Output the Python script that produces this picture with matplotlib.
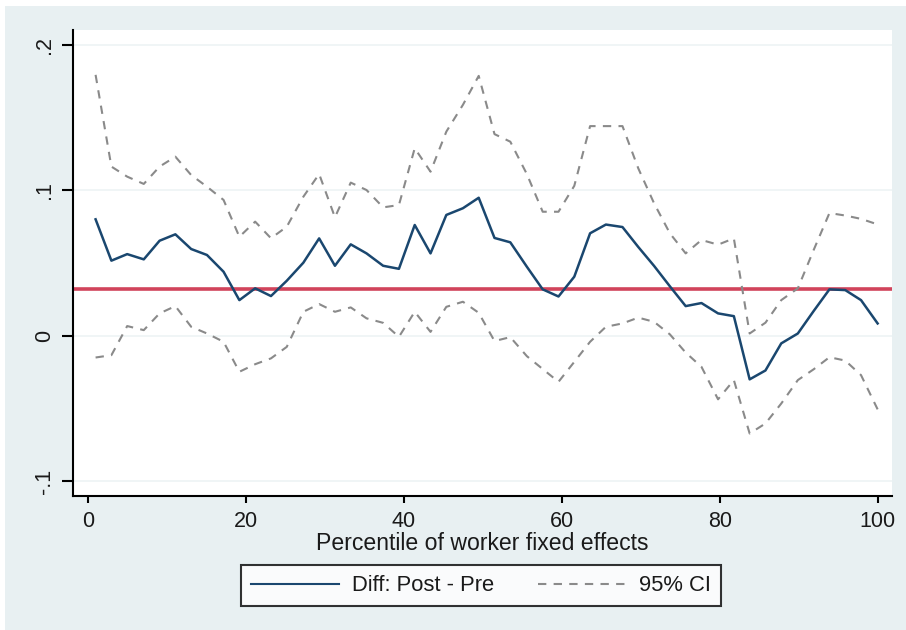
import matplotlib
matplotlib.use("Agg")
import matplotlib.pyplot as plt
from matplotlib.lines import Line2D

plt.rcParams['font.family'] = ['Liberation Sans', 'DejaVu Sans']

# Percentile grid (50 points from 1 to 100)
percentile = [1.0, 3.0, 5.0, 7.1, 9.1, 11.1, 13.1, 15.1, 17.2, 19.2,
              21.2, 23.2, 25.2, 27.3, 29.3, 31.3, 33.3, 35.3, 37.4, 39.4,
              41.4, 43.4, 45.4, 47.5, 49.5, 51.5, 53.5, 55.6, 57.6, 59.6,
              61.6, 63.6, 65.6, 67.7, 69.7, 71.7, 73.7, 75.7, 77.7, 79.8,
              81.8, 83.8, 85.8, 87.8, 89.9, 91.9, 93.9, 95.9, 97.9, 100.0]

diff = [0.080, 0.0516, 0.0561, 0.0525, 0.0653, 0.0697, 0.0596, 0.0555, 0.0440, 0.0245,
        0.0326, 0.0273, 0.0378, 0.0502, 0.0669, 0.0481, 0.0628, 0.0566, 0.0481, 0.0460,
        0.0761, 0.0566, 0.0830, 0.0876, 0.0948, 0.0672, 0.0642, 0.0474, 0.0319, 0.0270,
        0.0406, 0.0704, 0.0764, 0.0747, 0.0610, 0.0480, 0.0340, 0.0204, 0.0225, 0.0154,
        0.0135, -0.0299, -0.0238, -0.0052, 0.0016, 0.0170, 0.0319, 0.0314, 0.0245, 0.0085]

ci_upper = [0.1792, 0.1162, 0.1093, 0.1043, 0.1162, 0.1230, 0.1104, 0.1024, 0.0933, 0.0680,
            0.0784, 0.0670, 0.0749, 0.0955, 0.1111, 0.0814, 0.1052, 0.1001, 0.0882, 0.0898,
            0.1288, 0.1127, 0.1402, 0.1586, 0.1785, 0.1385, 0.1333, 0.1110, 0.0852, 0.0852,
            0.1030, 0.1440, 0.1440, 0.1440, 0.1150, 0.0910, 0.0704, 0.0566, 0.0658, 0.0626,
            0.0669, 0.0016, 0.0090, 0.0245, 0.0326, 0.0589, 0.0843, 0.0826, 0.0803, 0.0765]

ci_lower = [-0.0149, -0.0133, 0.0067, 0.0039, 0.0154, 0.0204, 0.0062, 0.0016, -0.0041, -0.0247,
            -0.0195, -0.0155, -0.0076, 0.0165, 0.0218, 0.0165, 0.0195, 0.0120, 0.0089, -0.0007,
            0.0165, 0.0027, 0.0199, 0.0234, 0.0158, -0.0036, -0.0009, -0.0140, -0.0228, -0.0316,
            -0.0179, -0.0041, 0.0062, 0.0085, 0.0125, 0.0096, 0.0010, -0.0115, -0.0213, -0.0436,
            -0.0304, -0.0671, -0.0602, -0.0465, -0.0304, -0.0230, -0.0147, -0.0170, -0.0270, -0.0505]

mean_line = 0.0323

y_ticks = [-0.1, 0.0, 0.1, 0.2]
y_ticklabels = ['-.1', '0', '.1', '.2']
x_ticks = [0, 20, 40, 60, 80, 100]

W, H = 906, 630
bg = '#E8F0F2'
fig = plt.figure(figsize=(W / 100, H / 100), dpi=100, facecolor='white')
# bluish-gray graph region with thin white border at left/top
fig.patches.append(plt.Rectangle((5 / W, 0), 1 - 5 / W, 1 - 6 / H, transform=fig.transFigure,
                                 facecolor=bg, edgecolor='none', zorder=-10))

left, right, top, bottom = 73, 892, 30, 496
ax = fig.add_axes([left / W, 1 - bottom / H, (right - left) / W, (bottom - top) / H])
ax.set_facecolor('white')

for yt in y_ticks:
    ax.axhline(yt, color='#EFF5F6', lw=1.3, zorder=0)

ax.axhline(mean_line, color='#D1435B', lw=2.6, zorder=2)
ax.plot(percentile, ci_upper, color='#8A8A8A', lw=1.5, dashes=(4, 3.5), zorder=3)
ax.plot(percentile, ci_lower, color='#8A8A8A', lw=1.5, dashes=(4, 3.5), zorder=3)
ax.plot(percentile, diff, color='#1A476F', lw=1.8, zorder=4)

ax.set_xlim(-1.86, 101.82)
ax.set_ylim(-0.110, 0.210)

for s in ['top', 'right']:
    ax.spines[s].set_visible(False)
for s in ['left', 'bottom']:
    ax.spines[s].set_linewidth(1.5)
    ax.spines[s].set_color('black')

ax.set_yticks(y_ticks)
ax.set_yticklabels(y_ticklabels, rotation=90, va='center', fontsize=15.5)
ax.set_xticks(x_ticks)
ax.set_xticklabels([str(t) for t in x_ticks], fontsize=15.5)
ax.tick_params(axis='y', length=8, width=1.5, pad=5, colors='black')
ax.tick_params(axis='x', length=5, width=1.5, pad=6, colors='black')
for lab in ax.get_xticklabels() + ax.get_yticklabels():
    lab.set_color('#1a1a1a')
ax.set_xlabel('Percentile of worker fixed effects', fontsize=16.6, labelpad=0, color='#1a1a1a')

handles = [Line2D([], [], color='#1A476F', lw=1.5),
           Line2D([], [], color='#8A8A8A', lw=1.5, dashes=(4, 3.5))]
leg = fig.legend(handles, ['Diff: Post - Pre', '95% CI'], loc='center',
                 bbox_to_anchor=(480.8 / W, 1 - 585.7 / H), ncol=2, fontsize=15.8,
                 frameon=True, fancybox=False, edgecolor='black', handlelength=4.0,
                 handletextpad=0.6, columnspacing=2.0, borderpad=0.45, borderaxespad=0)
leg.get_frame().set_linewidth(1.5)
for t in leg.get_texts():
    t.set_color('#1a1a1a')

fig.savefig('out.png', dpi=100, facecolor=fig.get_facecolor())
